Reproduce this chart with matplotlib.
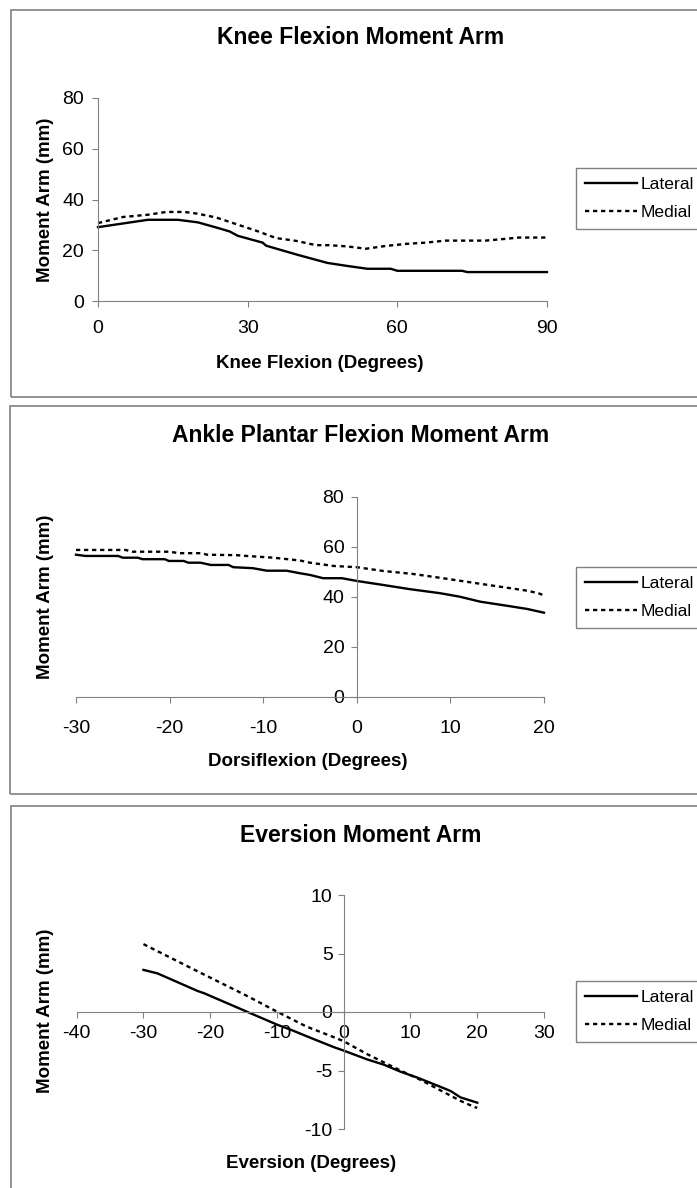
import matplotlib
matplotlib.use("Agg")
import matplotlib.pyplot as plt
from matplotlib.patches import Rectangle

plt.rcParams['font.family'] = ['Liberation Sans', 'DejaVu Sans']
plt.rcParams['axes.unicode_minus'] = False

# knee flexion moment arm (mm) vs knee flexion (deg)
knee_lat_x = [0, 10, 16, 20, 24, 26.4, 28, 33, 33.7, 40, 46, 50, 54, 58.7, 60, 73, 74, 90]
knee_lat_y = [29.1, 32, 32, 31, 28.8, 27.4, 25.7, 23, 21.8, 18.2, 15, 13.8, 12.7, 12.7, 11.9, 11.9, 11.4, 11.4]
knee_med_x = [0, 5, 10, 13.7, 17.3, 20, 23.7, 27.7, 31.7, 35.7, 39.7, 43.7, 46.3, 50,
              53.7, 57.7, 61.7, 65.7, 69.7, 77.7, 81.7, 84.3, 90]
knee_med_y = [30.7, 33.1, 34, 35.1, 35.1, 34.4, 32.9, 30.3, 27.7, 24.8, 23.7, 22, 22, 21.5,
              20.6, 21.7, 22.5, 23, 23.8, 23.8, 24.5, 25, 25]

# ankle plantar flexion moment arm (mm) vs dorsiflexion (deg)
ank_lat_x = [-30, -29, -25.5, -25, -23.4, -22.9, -20.5, -20.1, -18.5, -18, -16.7, -15.6, -13.7,
             -13.2, -11.1, -9.6, -7.5, -6.1, -5, -3.6, -1.6, 0, 2.8, 5.7, 8.9, 11, 13.2, 16, 18.2, 20]
ank_lat_y = [56.8, 56.3, 56.3, 55.6, 55.6, 55, 55, 54.3, 54.3, 53.6, 53.6, 52.7, 52.7,
             51.8, 51.4, 50.4, 50.4, 49.4, 48.7, 47.4, 47.4, 46.3, 44.7, 43, 41.4, 40, 38, 36.4, 35.1, 33.6]
ank_med_x = [-30, -24.7, -24, -20, -19, -16.6, -16, -12.8, -11.8, -8.9, -6.1, -5, -2.5, 0,
             2.8, 6, 9.2, 12.4, 15.3, 18.2, 19.4, 20]
ank_med_y = [58.7, 58.7, 58, 58, 57.4, 57.4, 56.8, 56.6, 56.3, 55.6, 54.5, 53.6, 52.3, 51.8,
             50.3, 49.1, 47.4, 45.6, 44, 42.4, 41.4, 40.5]

# eversion moment arm (mm) vs eversion (deg)
ev_lat_x = [-30, -27.9, -21.9, -20.9, -14.4, -9.9, -8, -5, -1.5, 0, 3.5, 6, 8.5, 11, 14.5, 16, 17.5, 20]
ev_lat_y = [3.6, 3.3, 1.8, 1.6, 0, -1.1, -1.5, -2.2, -3.0, -3.3, -4.05, -4.5, -5.1, -5.6, -6.4, -6.75, -7.3, -7.75]
ev_med_x = [-30, -22.5, -14.4, -9.9, -5.6, -1.5, 0, 3.5, 8.5, 11.5, 14.5, 17.5, 19.5, 20]
ev_med_y = [5.8, 3.65, 1.35, 0, -1.24, -2.15, -2.5, -3.6, -5.0, -5.8, -6.7, -7.6, -8.1, -8.2]

W, H = 697, 1188
fig = plt.figure(figsize=(W / 100, H / 100), dpi=100)

GRAY = '#808080'


def fx(px):
    return px / W


def fy(py):
    return 1 - py / H


def make_axes(left, top, right, bottom):
    ax = fig.add_axes([fx(left), fy(bottom), fx(right - left), (bottom - top) / H])
    for s in ['top', 'right']:
        ax.spines[s].set_visible(False)
    for s in ['left', 'bottom']:
        ax.spines[s].set_color(GRAY)
        ax.spines[s].set_linewidth(0.8)
    ax.tick_params(direction='out', length=4, width=0.8, color=GRAY, labelsize=14)
    return ax


def draw_lines(ax, xl, yl, xm, ym):
    ax.plot(xl, yl, color='black', lw=1.7, label='Lateral', clip_on=False)
    ax.plot(xm, ym, color='black', lw=1.7, dashes=(1.8, 1.6), label='Medial', clip_on=False)


def panel_text(title, title_y, xlabel, xlab_x, xlab_y, ylab_y):
    fig.text(fx(361), fy(title_y), title, ha='center', va='center', fontsize=16.5, fontweight='bold')
    fig.text(fx(xlab_x), fy(xlab_y), xlabel, ha='center', va='center', fontsize=13.5, fontweight='bold')
    fig.text(fx(46), fy(ylab_y), 'Moment Arm (mm)', ha='center', va='center', rotation=90,
             fontsize=13.5, fontweight='bold')


def border(left, top, right, bottom):
    fig.patches.append(Rectangle((fx(left), fy(bottom)), fx(right - left), (bottom - top) / H,
                                 transform=fig.transFigure, fill=False, edgecolor=GRAY, lw=1.2))


def legend(ax, top):
    h, l = ax.get_legend_handles_labels()
    fig.legend(h, l, loc='upper left', bbox_to_anchor=(fx(576), fy(top)), borderaxespad=0,
               fontsize=12.6, handlelength=3.0, handletextpad=0.2, labelspacing=0.75,
               borderpad=0.5, fancybox=False, framealpha=1, edgecolor=GRAY)


# panel 1 - knee
border(11, 10, 740, 397)
ax1 = make_axes(98, 98, 547, 301)
draw_lines(ax1, knee_lat_x, knee_lat_y, knee_med_x, knee_med_y)
ax1.set_xlim(0, 90)
ax1.set_ylim(0, 80)
ax1.set_xticks([0, 30, 60, 90])
ax1.set_yticks([0, 20, 40, 60, 80])
ax1.tick_params(axis='x', pad=10)
ax1.tick_params(axis='y', pad=6)
panel_text('Knee Flexion Moment Arm', 37, 'Knee Flexion (Degrees)', 320, 363, 200)
legend(ax1, 168)

# panel 2 - ankle plantar flexion
border(10, 406, 740, 794)
ax2 = make_axes(76, 496.7, 544, 696.7)
draw_lines(ax2, ank_lat_x, ank_lat_y, ank_med_x, ank_med_y)
ax2.set_xlim(-30, 20)
ax2.set_ylim(0, 80)
ax2.spines['left'].set_position(('data', 0))
ax2.set_xticks([-30, -20, -10, 0, 10, 20])
ax2.set_yticks([0, 20, 40, 60, 80])
ax2.tick_params(axis='x', pad=13)
ax2.tick_params(axis='y', pad=5)
panel_text('Ankle Plantar Flexion Moment Arm', 435, 'Dorsiflexion (Degrees)', 308, 762, 597)
legend(ax2, 567)

# panel 3 - eversion
border(11, 806, 740, 1220)
ax3 = make_axes(76.7, 895, 544, 1129)
draw_lines(ax3, ev_lat_x, ev_lat_y, ev_med_x, ev_med_y)
ax3.set_xlim(-40, 30)
ax3.set_ylim(-10, 10)
ax3.spines['left'].set_position(('data', 0))
ax3.spines['bottom'].set_position(('data', 0))
ax3.set_xticks([-40, -30, -20, -10, 0, 10, 20, 30])
ax3.set_yticks([-10, -5, 0, 5, 10])
ax3.tick_params(axis='x', pad=5)
ax3.tick_params(axis='y', pad=4)
panel_text('Eversion Moment Arm', 835, 'Eversion (Degrees)', 311, 1163, 1011)
legend(ax3, 981)

fig.savefig('out.png', dpi=100)
